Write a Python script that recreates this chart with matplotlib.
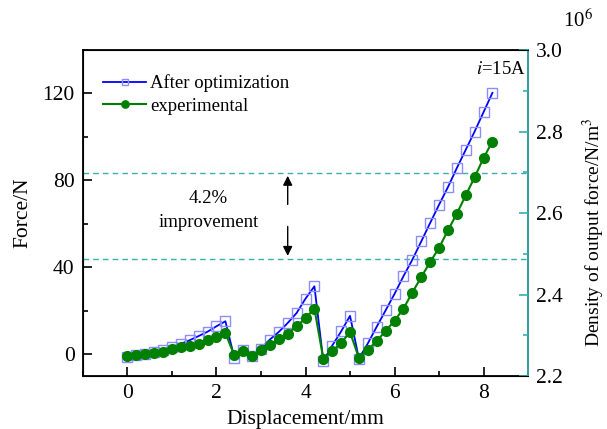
import numpy as np
import matplotlib
matplotlib.use("Agg")
import matplotlib.pyplot as plt
from matplotlib.ticker import MultipleLocator, FormatStrFormatter

plt.rcParams["font.family"] = ["Liberation Serif", "DejaVu Serif"]
plt.rcParams["mathtext.fontset"] = "stix"

# ------------------ Data ------------------
disp = [0.0, 0.2, 0.4, 0.6, 0.8, 1.0, 1.2, 1.4, 1.6, 1.8, 2.0, 2.2,
        2.4, 2.6, 2.8, 3.0, 3.2, 3.4, 3.6, 3.8, 4.0, 4.2,
        4.4, 4.6, 4.8, 5.0,
        5.2, 5.4, 5.6, 5.8, 6.0, 6.2, 6.4, 6.6, 6.8, 7.0, 7.2, 7.4, 7.6, 7.8, 8.0, 8.2]

force_opt = [-1.2, -0.5, 0.3, 1.2, 2.2, 3.4, 4.8, 6.5, 8.4, 10.4, 12.9, 15.2,
             -1.5, 2.0, -0.8, 2.6, 6.8, 10.3, 14.4, 19.0, 25.6, 31.3,
             -3.0, 4.0, 10.5, 17.7,
             -2.0, 5.0, 12.7, 20.2, 27.8, 35.9, 43.5, 51.9, 60.4, 68.8, 76.9, 85.7, 94.1, 102.5, 111.4, 120.3]

force_exp = [-0.6, -0.15, 0.3, 0.8, 1.2, 2.3, 3.2, 3.8, 4.6, 6.4, 8.0, 9.8,
             -0.5, 1.4, -0.9, 2.1, 4.1, 7.2, 9.5, 12.9, 16.6, 21.0,
             -2.0, 1.4, 5.2, 10.2,
             -1.7, 2.1, 6.0, 10.8, 15.4, 21.0, 28.4, 35.5, 42.4, 49.0, 57.0, 64.7, 73.1, 81.5, 90.3, 97.9]

# improvement band (force, N)
band_low = 44.0
band_high = 83.4
arrow_x = 3.6

teal = "#3aaeae"

# ------------------ Plot ------------------
fig = plt.figure(figsize=(6.07, 4.29), dpi=100)
ax = fig.add_axes([0.1367, 0.1235, 0.7332, 0.7599])

ax.plot(disp, force_opt, "-", color="#0000ff", lw=1.3, marker="s", ms=6.5,
        mfc="none", mec="#8c8cff", mew=1.0, label="After optimization", zorder=3)
ax.plot(disp, force_exp, "-", color="#008000", lw=1.5, marker="o", ms=7,
        mfc="#008000", mec="#008000", label="experimental", zorder=4)

ax.axhline(band_high, color=teal, ls=(0, (4, 3)), lw=1.0)
ax.axhline(band_low, color=teal, ls=(0, (4, 3)), lw=1.0)

ax.annotate("", xy=(arrow_x, band_high), xytext=(arrow_x, 67.7),
            arrowprops=dict(arrowstyle="-|>", color="black", lw=1.0, mutation_scale=14))
ax.annotate("", xy=(arrow_x, band_low), xytext=(arrow_x, 60.1),
            arrowprops=dict(arrowstyle="-|>", color="black", lw=1.0, mutation_scale=14))
ax.text(1.82, 71.7, "4.2%", ha="center", va="center", fontsize=13.5)
ax.text(1.82, 60.8, "improvement", ha="center", va="center", fontsize=13.5)
ax.text(8.95, 131, "$i$=15A", ha="right", va="center", fontsize=13.5)

ax.set_xlim(-1, 9)
ax.set_ylim(-10, 140)
ax.xaxis.set_major_locator(MultipleLocator(2))
ax.xaxis.set_minor_locator(MultipleLocator(1))
ax.yaxis.set_major_locator(MultipleLocator(40))
ax.yaxis.set_minor_locator(MultipleLocator(20))
ax.tick_params(which="both", direction="in", top=False, right=False, labelsize=15.5, width=1.2)
ax.tick_params(which="major", length=6.5, pad=6)
ax.tick_params(which="minor", length=3.5)
ax.set_xlabel("Displacement/mm", fontsize=15.5, labelpad=5)
ax.set_ylabel("Force/N", fontsize=15.5, labelpad=7)
for s in ax.spines.values():
    s.set_linewidth(1.3)

ax.legend(loc="upper left", frameon=False, fontsize=13.5, handlelength=2.3, markerscale=0.75,
          handletextpad=0.2, labelspacing=0.3, borderaxespad=0.2, bbox_to_anchor=(0.02, 0.96))

ax2 = ax.twinx()
ax2.set_ylim(2.2, 3.0)
ax2.yaxis.set_major_locator(MultipleLocator(0.2))
ax2.yaxis.set_minor_locator(MultipleLocator(0.1))
ax2.yaxis.set_major_formatter(FormatStrFormatter("%.1f"))
ax2.tick_params(which="both", direction="in", colors=teal, labelcolor="black", labelsize=15.5, width=1.2)
ax2.tick_params(which="major", length=6.5, pad=6)
ax2.tick_params(which="minor", length=3.5)
ax2.spines["right"].set_color(teal)
ax2.spines["right"].set_linewidth(1.3)
fig.text(594 / 607, 1 - 232 / 429, "Density of output force/N/m$^3$", rotation=90,
         ha="center", va="center", fontsize=14)
fig.text(0.952, 0.952, "10$^6$", ha="center", va="center", fontsize=15)

fig.savefig("out.png", dpi=100)
